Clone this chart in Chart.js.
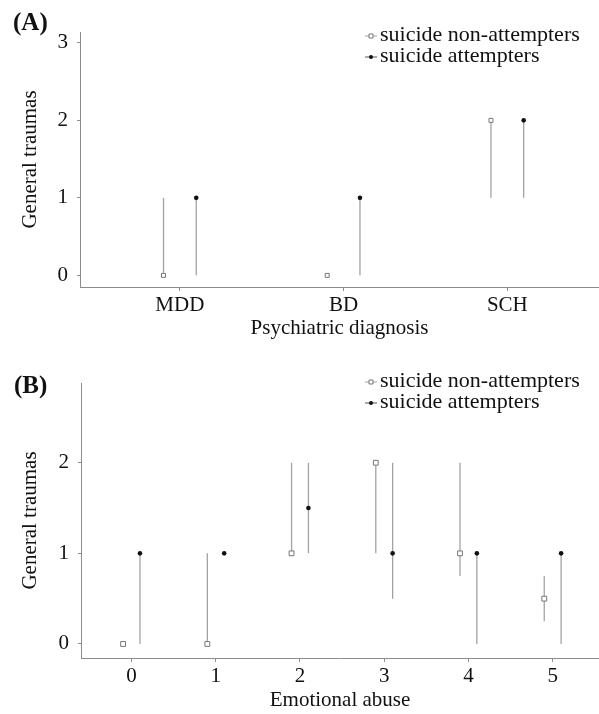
<!DOCTYPE html>
<html>
<head>
<meta charset="utf-8">
<script src="https://cdn.jsdelivr.net/npm/chart.js@4.4.0/dist/chart.umd.min.js"></script>
<style>
    html, body { margin: 0; padding: 0; background: #fff; overflow: hidden; }
    .panel { position: relative; width: 599px; }
    #panelA { height: 342px; }
    #panelB { height: 372px; }
</style>
</head>
<body>
<div class="panel" id="panelA"><canvas id="chartA"></canvas></div>
<div class="panel" id="panelB"><canvas id="chartB"></canvas></div>
<script>
// Panel A: general traumas by psychiatric diagnosis (median + range bars)
const diagnoses = ['MDD', 'BD', 'SCH'];
const diagNonMedian = [0, 0, 2];
const diagNonLow = [0, 0, 1];
const diagNonHigh = [1, 0, 2];
const diagAttMedian = [1, 1, 2];
const diagAttLow = [0, 0, 1];
const diagAttHigh = [1, 1, 2];
const diagYTicks = [0, 1, 2, 3];

// Panel B: general traumas by emotional abuse score
const abuseLevels = [0, 1, 2, 3, 4, 5];
const abuseNonMedian = [0, 0, 1, 2, 1, 0.5];
const abuseNonLow = [0, 0, 1, 1, 0.75, 0.25];
const abuseNonHigh = [0, 1, 2, 2, 2, 0.75];
const abuseAttMedian = [1, 1, 1.5, 1, 1, 1];
const abuseAttLow = [0, 1, 1, 0.5, 0, 0];
const abuseAttHigh = [1, 1, 2, 2, 1, 1];
const abuseYTicks = [0, 1, 2];

const groupNames = ['suicide non-attempters', 'suicide attempters'];

const serif = "'Liberation Serif', 'Times New Roman', serif";
const axisGray = '#8c8c8c';
const barGray = '#a3a3a3';
const dodge = 0.1;

function toPoints(xs, ys, shift) {
    return xs.map((x, i) => ({ x: x + shift, y: ys[i] }));
}

// vertical segments separated by null gaps
function toRanges(xs, lo, hi, shift) {
    const out = [];
    xs.forEach((x, i) => {
        out.push({ x: x + shift, y: lo[i] }, { x: x + shift, y: hi[i] }, { x: x + shift, y: null });
    });
    return out;
}

const panelDecor = {
    id: 'panelDecor',
    afterDraw(chart, args, o) {
        const ctx = chart.ctx;
        ctx.save();
        ctx.fillStyle = '#111';
        ctx.textAlign = 'left';
        ctx.textBaseline = 'alphabetic';
        ctx.font = 'bold 25px ' + serif;
        ctx.fillText(o.label, o.labelX, o.labelY);

        ctx.font = '22px ' + serif;
        groupNames.forEach((name, i) => {
            const y = o.legendY + i * o.rowGap;
            const my = y - 5;
            ctx.strokeStyle = i === 0 ? barGray : '#555';
            ctx.lineWidth = 1;
            ctx.beginPath();
            ctx.moveTo(o.legendX - 6, my);
            ctx.lineTo(o.legendX + 6, my);
            ctx.stroke();
            ctx.beginPath();
            if (i === 0) {
                ctx.fillStyle = '#fff';
                ctx.strokeStyle = '#777';
                ctx.rect(o.legendX - 2, my - 2, 4, 4);
                ctx.fill();
                ctx.stroke();
            } else {
                ctx.fillStyle = '#111';
                ctx.arc(o.legendX, my, 2, 0, Math.PI * 2);
                ctx.fill();
            }
            ctx.fillStyle = '#111';
            ctx.fillText(name, o.legendX + 9, y);
        });
        ctx.restore();
    }
};

function makePanel(id, cfg) {
    const datasets = [
        {
            data: toRanges(cfg.xs, cfg.nonLow, cfg.nonHigh, -dodge),
            showLine: true, spanGaps: false, pointRadius: 0,
            borderColor: barGray, borderWidth: 1.3, order: 2
        },
        {
            data: toRanges(cfg.xs, cfg.attLow, cfg.attHigh, dodge),
            showLine: true, spanGaps: false, pointRadius: 0,
            borderColor: barGray, borderWidth: 1.3, order: 2
        },
        {
            label: groupNames[0],
            data: toPoints(cfg.xs, cfg.nonMedian, -dodge),
            pointStyle: 'rect', pointRadius: cfg.squareRadius,
            backgroundColor: '#fff', borderColor: '#777', borderWidth: 1, order: 1
        },
        {
            label: groupNames[1],
            data: toPoints(cfg.xs, cfg.attMedian, dodge),
            pointStyle: 'circle', pointRadius: 2.3,
            backgroundColor: '#111', borderColor: '#111', borderWidth: 0, order: 0
        }
    ];

    return new Chart(document.getElementById(id), {
        type: 'scatter',
        data: { datasets: datasets },
        plugins: [panelDecor],
        options: {
            responsive: true,
            maintainAspectRatio: false,
            animation: false,
            layout: { autoPadding: false, padding: { top: cfg.top, right: 0, left: 0, bottom: 0 } },
            plugins: {
                legend: { display: false },
                tooltip: { enabled: false },
                panelDecor: cfg.decor
            },
            scales: {
                x: {
                    type: 'linear',
                    min: cfg.xMin, max: cfg.xMax,
                    afterBuildTicks: s => { s.ticks = cfg.xTicks.map(v => ({ value: v })); },
                    afterFit: s => { s.height = cfg.xHeight; },
                    grid: { drawOnChartArea: false, drawTicks: true, tickLength: 4, color: axisGray },
                    border: { display: true, color: axisGray, width: 1 },
                    ticks: {
                        padding: 4, color: '#111',
                        font: { family: serif, size: 21, lineHeight: 1 },
                        callback: cfg.xLabel
                    },
                    title: {
                        display: true, text: cfg.xTitle, color: '#111',
                        font: { family: serif, size: 21, lineHeight: 1 },
                        padding: { top: 0, bottom: cfg.xTitlePad }
                    }
                },
                y: {
                    type: 'linear',
                    min: cfg.yMin, max: cfg.yMax,
                    afterBuildTicks: s => { s.ticks = cfg.yTicks.map(v => ({ value: v })); },
                    afterFit: s => { s.width = cfg.yWidth; },
                    grid: { drawOnChartArea: false, drawTicks: true, tickLength: 3, color: axisGray },
                    border: { display: true, color: axisGray, width: 1 },
                    ticks: {
                        padding: 9, color: '#111',
                        font: { family: serif, size: 21 }
                    },
                    title: {
                        display: true, text: 'General traumas', color: '#111',
                        font: { family: serif, size: 21, lineHeight: 1 },
                        padding: { top: 20, bottom: 0 }
                    }
                }
            }
        }
    });
}

makePanel('chartA', {
    xs: diagnoses.map((d, i) => i + 1),
    nonMedian: diagNonMedian, nonLow: diagNonLow, nonHigh: diagNonHigh,
    attMedian: diagAttMedian, attLow: diagAttLow, attHigh: diagAttHigh,
    xMin: 0.39, xMax: 3.56,
    xTicks: diagnoses.map((d, i) => i + 1),
    xLabel: v => diagnoses[Math.round(v) - 1],
    xTitle: 'Psychiatric diagnosis', xTitlePad: 3,
    yMin: -0.15, yMax: 3.14, yTicks: diagYTicks,
    top: 32, xHeight: 55, yWidth: 80, squareRadius: 2.8,
    decor: { label: '(A)', labelX: 13, labelY: 30, legendX: 371, legendY: 41, rowGap: 21 }
});

makePanel('chartB', {
    xs: abuseLevels,
    nonMedian: abuseNonMedian, nonLow: abuseNonLow, nonHigh: abuseNonHigh,
    attMedian: abuseAttMedian, attLow: abuseAttLow, attHigh: abuseAttHigh,
    xMin: -0.6, xMax: 5.55,
    xTicks: abuseLevels,
    xLabel: v => String(v),
    xTitle: 'Emotional abuse', xTitlePad: 3,
    yMin: -0.155, yMax: 2.88, yTicks: abuseYTicks,
    top: 41, xHeight: 56, yWidth: 81, squareRadius: 3.4,
    decor: { label: '(B)', labelX: 14, labelY: 51, legendX: 371, legendY: 45, rowGap: 21 }
});
</script>
</body>
</html>
